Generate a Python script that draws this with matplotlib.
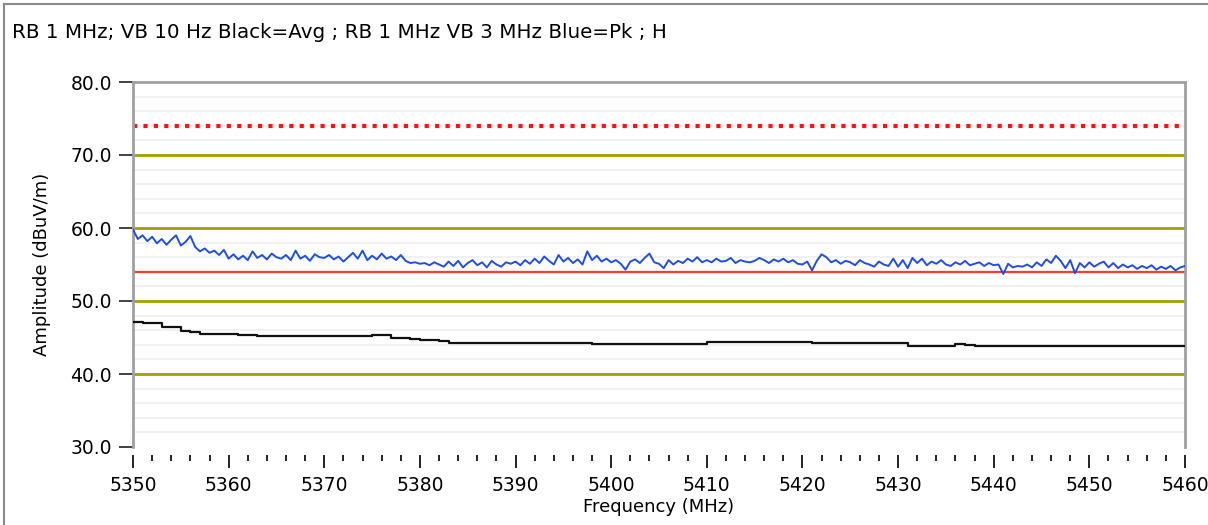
import numpy as np
import matplotlib
matplotlib.use("Agg")
import matplotlib.pyplot as plt
from matplotlib.lines import Line2D

# Peak trace (blue), one value every 0.5 MHz from 5350 to 5460
pk_start = 5350.0
pk_step = 0.5
pk_values = [
    59.8, 58.5, 59.0, 58.2, 58.8, 57.9, 58.5, 57.7, 58.4, 59.0, 57.6, 58.1, 58.9, 57.4, 56.8, 57.2, 56.6, 56.9, 56.3, 57.0,
    55.8, 56.4, 55.7, 56.2, 55.6, 56.8, 55.9, 56.3, 55.7, 56.5, 56.0, 55.8, 56.3, 55.6, 56.9, 55.8, 56.2, 55.5, 56.4, 56.0,
    55.9, 56.3, 55.7, 56.1, 55.4, 56.0, 56.6, 55.8, 56.9, 55.6, 56.2, 55.7, 56.5, 55.8, 56.1, 55.6, 56.3, 55.5, 55.2, 55.3,
    55.1, 55.2, 54.9, 55.3, 55.0, 54.7, 55.4, 54.8, 55.5, 54.6, 55.2, 55.6, 54.9, 55.3, 54.6, 55.5, 55.0, 54.7, 55.3, 55.1,
    55.4, 54.9, 55.6, 55.1, 55.8, 55.2, 56.1, 55.5, 55.0, 56.3, 55.4, 55.9, 55.2, 55.7, 55.0, 56.8, 55.6, 56.2, 55.4, 55.8,
    55.3, 55.6, 55.1, 54.3, 55.4, 55.7, 55.2, 55.9, 56.5, 55.3, 55.1, 54.5, 55.6, 55.0, 55.5, 55.2, 55.8, 55.4, 56.0, 55.3,
    55.6, 55.3, 55.8, 55.4, 55.5, 55.9, 55.2, 55.6, 55.4, 55.3, 55.5, 55.9, 55.6, 55.2, 55.7, 55.4, 55.8, 55.3, 55.6, 55.1,
    55.0, 55.4, 54.2, 55.5, 56.4, 56.0, 55.3, 55.6, 55.1, 55.5, 55.3, 54.9, 55.6, 55.2, 55.0, 54.7, 55.4, 55.0, 54.8, 55.8,
    54.7, 55.6, 54.5, 55.9, 55.2, 55.8, 54.9, 55.4, 55.1, 55.6, 55.0, 54.8, 55.3, 55.0, 55.5, 54.9, 55.1, 55.3, 54.8, 55.2,
    54.9, 55.0, 53.7, 55.1, 54.6, 54.8, 54.7, 55.0, 54.6, 55.3, 54.8, 55.7, 55.2, 56.2, 55.5, 54.5, 55.6, 53.8, 55.2, 54.6,
    55.3, 54.7, 55.1, 55.4, 54.6, 55.2, 54.5, 55.0, 54.6, 54.9, 54.4, 54.8, 54.5, 54.9, 54.3, 54.7, 54.4, 54.8, 54.2, 54.6, 54.8,
]
pk_freq = pk_start + pk_step * np.arange(len(pk_values))

# Average trace (black)
avg_freq = [5350, 5351, 5353, 5355, 5356, 5357, 5360, 5361, 5362, 5363, 5370, 5374, 5375, 5377,
            5379, 5380, 5382, 5383, 5389, 5390, 5397, 5398, 5409, 5410, 5420, 5421, 5430, 5431,
            5435, 5436, 5437, 5438, 5445, 5446, 5460]
avg_values = [47.1, 47.0, 46.5, 45.9, 45.7, 45.5, 45.5, 45.3, 45.4, 45.2, 45.2, 45.2, 45.3, 45.0,
              44.8, 44.6, 44.5, 44.2, 44.2, 44.3, 44.3, 44.1, 44.1, 44.4, 44.4, 44.2, 44.2, 43.8,
              43.8, 44.1, 44.0, 43.9, 43.9, 43.8, 43.8]

limit_pk = 74.0
limit_avg = 54.0
title = "RB 1 MHz; VB 10 Hz Black=Avg ; RB 1 MHz VB 3 MHz Blue=Pk ; H"

fig = plt.figure(figsize=(12.08, 5.25), dpi=100)
ax = fig.add_axes([133 / 1208, 1 - 447 / 525, (1185 - 133) / 1208, (447 - 82) / 525])

ax.set_xlim(5350, 5460)
ax.set_ylim(30, 80)

# grid
for y in np.arange(32, 80, 2):
    if y % 10:
        ax.axhline(y, color="#efefef", lw=1.2, zorder=0)
for y in [40, 50, 60, 70]:
    ax.axhline(y, color="#a0a000", lw=2, zorder=1)

ax.axhline(limit_pk, color="#ff1111", lw=3, ls=(0, (1, 1.5)), zorder=2)
ax.axhline(limit_avg, color="#ff3b30", lw=1.6, zorder=2)

ax.plot(pk_freq, pk_values, color="#1f4fe0", lw=1.4, zorder=3)
ax.plot(avg_freq, avg_values, color="#111111", lw=1.6, zorder=3, drawstyle="steps-post")

for s in ["left", "top", "right"]:
    ax.spines[s].set_color("#a0a0a0")
    ax.spines[s].set_linewidth(2)
ax.spines["bottom"].set_visible(False)
# x ticks sit a little below the plot area
ax.spines["bottom"].set_position(("outward", 6))

ax.set_yticks([30, 40, 50, 60, 70, 80])
ax.set_yticklabels(["%.1f" % v for v in [30, 40, 50, 60, 70, 80]])
ax.set_xticks(np.arange(5350, 5461, 10))
ax.set_xticks(np.arange(5350, 5461, 2), minor=True)
ax.tick_params(axis="y", length=10, width=1.2, color="#222222", labelsize=13.5, pad=5)
ax.tick_params(axis="x", which="major", length=9, width=1.4, color="#222222",
               labelsize=13.5, pad=6, direction="out")
ax.tick_params(axis="x", which="minor", length=4, width=1.4, color="#222222", direction="out")

ax.set_xlabel("Frequency (MHz)", fontsize=13, labelpad=2)
ax.set_ylabel("Amplitude (dBuV/m)", fontsize=13, labelpad=14)

fig.text(12 / 1208, 1 - 32 / 525, title, fontsize=14.3, va="center", ha="left")

# outer frame
fc = "#8a8a8a"
fig.add_artist(Line2D([4 / 1208, 4 / 1208], [0, 1 - 4 / 525], transform=fig.transFigure, color=fc, lw=1.5))
fig.add_artist(Line2D([4 / 1208, 1], [1 - 4 / 525, 1 - 4 / 525], transform=fig.transFigure, color=fc, lw=1.5))

fig.savefig("out.png", dpi=100)
